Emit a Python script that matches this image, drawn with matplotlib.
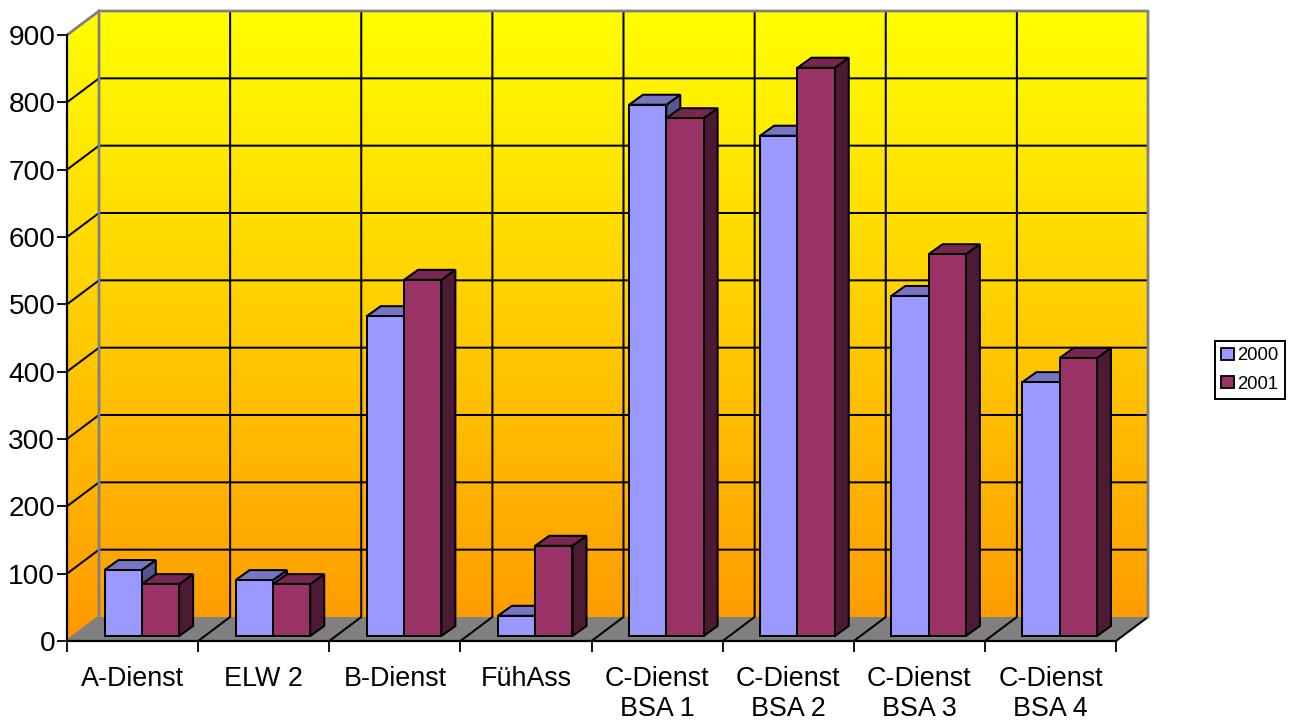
import numpy as np
import matplotlib
matplotlib.use("Agg")
import matplotlib.pyplot as plt
from matplotlib.colors import LinearSegmentedColormap
from matplotlib.patches import Polygon, Patch

plt.rcParams['font.family'] = ['Liberation Sans', 'DejaVu Sans']

categories = ['A-Dienst', 'ELW 2', 'B-Dienst', 'FühAss', 'C-Dienst\nBSA 1',
              'C-Dienst\nBSA 2', 'C-Dienst\nBSA 3', 'C-Dienst\nBSA 4']
values_2000 = [98, 83, 475, 30, 789, 743, 505, 377]
values_2001 = [77, 77, 529, 134, 769, 844, 567, 413]
y_ticks = [0, 100, 200, 300, 400, 500, 600, 700, 800, 900]

W, H = 1294, 720
fig = plt.figure(figsize=(W / 100, H / 100), dpi=100)
ax = fig.add_axes([67 / W, (H - 641) / H, 1049 / W, 606 / H])

# pixels -> data units, used for the fake 3d depth
px_x = 1 / 131.1
px_y = 1 / 0.6733
wall_dx = 32 * px_x
wall_dy = 24 * px_y
bar_dx = 14 * px_x
bar_dy = 10 * px_y
base_dx = 6.5 * px_x
base_dy = 5 * px_y
bar_w = 37.3 * px_x
bar_start = 31 * px_x

n = len(categories)
top = y_ticks[-1]
grey = '#808080'
line_w = 1.45

# Walls with the yellow to orange gradient
cmap = LinearSegmentedColormap.from_list('wall', ['#FFFF00', '#FF9900'])
grad = np.linspace(0, 1, 256).reshape(-1, 1)
walls = Polygon([(0, 0), (wall_dx, wall_dy), (n + wall_dx, wall_dy),
                 (n + wall_dx, top + wall_dy), (wall_dx, top + wall_dy), (0, top)],
                closed=True, transform=ax.transData, facecolor='none', edgecolor='none')
ax.add_patch(walls)
walls.set_clip_on(False)
im = ax.imshow(grad, cmap=cmap, aspect='auto', zorder=0,
               extent=(0, n + wall_dx, 0, top + wall_dy))
im.set_clip_box(fig.bbox)
im.set_clip_path(walls)

# Floor
ax.add_patch(Polygon([(0, 0), (n, 0), (n + wall_dx, wall_dy), (wall_dx, wall_dy)], closed=True,
                     facecolor=grey, edgecolor='none', zorder=1, clip_on=False))

# Gridlines on the walls and floor
for t in y_ticks[1:-1]:
    ax.plot([0, wall_dx, n + wall_dx], [t, t + wall_dy, t + wall_dy], color='black', lw=line_w,
            zorder=2, clip_on=False)
for i in range(1, n):
    ax.plot([i, i + wall_dx, i + wall_dx], [0, wall_dy, top + wall_dy], color='black', lw=line_w,
            zorder=2, clip_on=False)
ax.plot([n, n + wall_dx], [0, wall_dy], color='black', lw=line_w, zorder=2, clip_on=False)

# Grey frame of the walls
ax.plot([0, wall_dx, n + wall_dx, n + wall_dx], [top, top + wall_dy, top + wall_dy, wall_dy],
        color=grey, lw=2, zorder=3, clip_on=False)
ax.plot([0, wall_dx, wall_dx], [0, wall_dy, top + wall_dy], color=grey, lw=2, zorder=3, clip_on=False)


def bar3d(x, value, front, roof, side, z):
    x0 = x + base_dx
    x1 = x0 + bar_w
    y0 = base_dy
    y1 = y0 + value
    style = dict(edgecolor='black', lw=line_w, joinstyle='miter', clip_on=False, zorder=z)
    ax.add_patch(Polygon([(x1, y0), (x1 + bar_dx, y0 + bar_dy), (x1 + bar_dx, y1 + bar_dy), (x1, y1)],
                         closed=True, facecolor=side, **style))
    ax.add_patch(Polygon([(x0, y1), (x1, y1), (x1 + bar_dx, y1 + bar_dy), (x0 + bar_dx, y1 + bar_dy)],
                         closed=True, facecolor=roof, **style))
    ax.add_patch(Polygon([(x0, y0), (x1, y0), (x1, y1), (x0, y1)], closed=True, facecolor=front, **style))


for i in range(n):
    bar3d(i + bar_start, values_2000[i], '#9999FF', '#7575C4', '#555590', 4 + i)
    bar3d(i + bar_start + bar_w, values_2001[i], '#993366', '#772850', '#4D1A33', 4 + i + 0.5)

ax.set_xlim(0, n)
ax.set_ylim(0, top)
ax.patch.set_visible(False)
for s in ['top', 'right']:
    ax.spines[s].set_visible(False)
for s in ['left', 'bottom']:
    ax.spines[s].set_linewidth(1.6)
    ax.spines[s].set_zorder(10)

ax.set_yticks(y_ticks)
ax.tick_params(axis='y', length=7.5, width=1.3, labelsize=20.2, pad=1)
ax.set_xticks(range(n + 1))
ax.set_xticklabels([])
ax.tick_params(axis='x', which='major', length=8, width=1.3)
ax.set_xticks(np.arange(n) + 0.5, minor=True)
ax.set_xticklabels(categories, minor=True, fontsize=19.4, linespacing=1.22)
ax.tick_params(axis='x', which='minor', length=0, pad=18)

handles = [Patch(facecolor='#9999FF', edgecolor='black', lw=1.3, label='2000'),
           Patch(facecolor='#993366', edgecolor='black', lw=1.3, label='2001')]
fig.legend(handles=handles, loc='center left', bbox_to_anchor=(1215 / W, 1 - 370 / H), fontsize=13.3,
           frameon=True, fancybox=False, edgecolor='black', framealpha=1, borderpad=0.33,
           handlelength=0.68, handleheight=0.68, handletextpad=0.2, labelspacing=0.6,
           borderaxespad=0).get_frame().set_linewidth(1.4)

fig.savefig('out.png', dpi=100)
